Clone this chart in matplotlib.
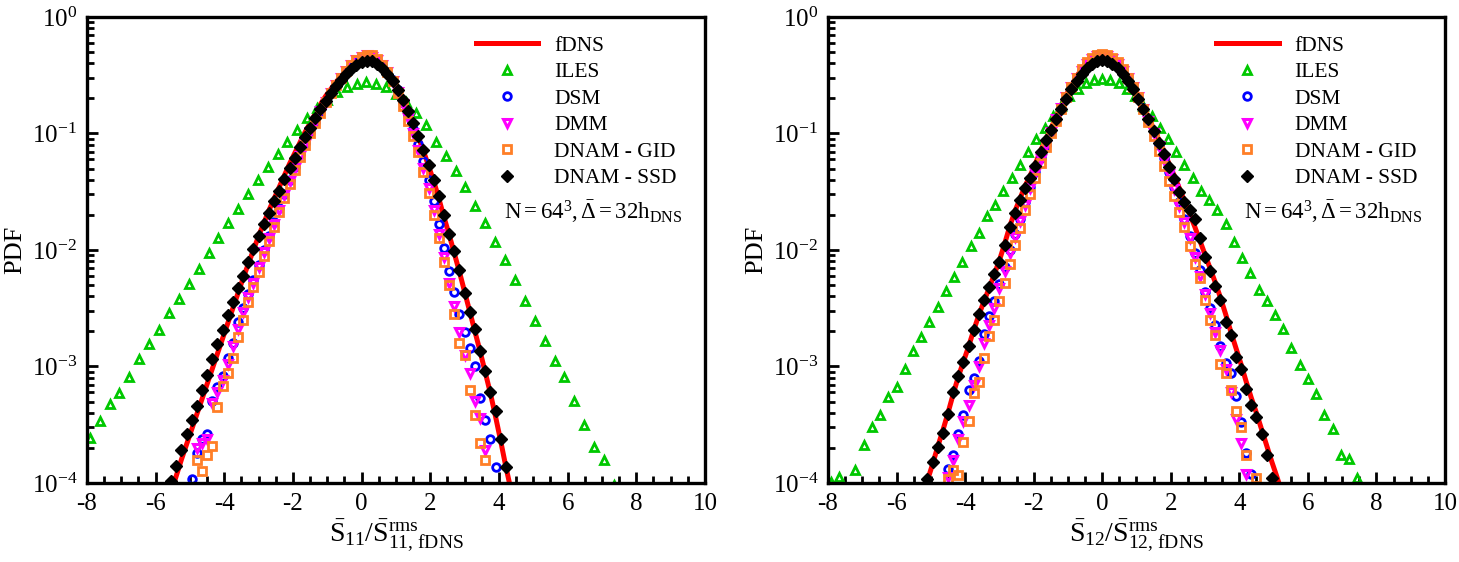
import numpy as np
import matplotlib
matplotlib.use('Agg')
import matplotlib.pyplot as plt
from matplotlib.ticker import MultipleLocator, LogLocator, NullFormatter

plt.rcParams['font.family'] = ['Liberation Serif', 'DejaVu Serif']
plt.rcParams['mathtext.fontset'] = 'custom'
plt.rcParams['mathtext.rm'] = 'Liberation Serif'
plt.rcParams['mathtext.it'] = 'Liberation Serif:italic'
plt.rcParams['axes.unicode_minus'] = False

nan = np.nan

# ---------------- S11 panel: bin centres and log10(PDF) ----------------
x11 = [-5.55, -5.40, -5.25, -5.10, -4.95, -4.80, -4.65, -4.50, -4.35, -4.20,
       -4.05, -3.90, -3.75, -3.60, -3.45, -3.30, -3.15, -3.00, -2.85, -2.70,
       -2.55, -2.40, -2.25, -2.10, -1.95, -1.80, -1.65, -1.50, -1.35, -1.20,
       -1.05, -0.90, -0.75, -0.60, -0.45, -0.30, -0.15, 0.00, 0.15, 0.30,
       0.45, 0.60, 0.75, 0.90, 1.05, 1.20, 1.35, 1.50, 1.65, 1.80,
       1.95, 2.10, 2.25, 2.40, 2.55, 2.70, 2.85, 3.00, 3.15, 3.30,
       3.45, 3.60, 3.75, 3.90, 4.05, 4.20, 4.35]

fdns11 = [-4.08, -3.94, -3.80, -3.67, -3.54, -3.41, -3.28, -3.15, -3.02, -2.89,
          -2.76, -2.63, -2.50, -2.37, -2.24, -2.12, -2.00, -1.88, -1.77, -1.66,
          -1.56, -1.46, -1.36, -1.26, -1.17, -1.08, -0.99, -0.91, -0.83, -0.75,
          -0.68, -0.62, -0.56, -0.51, -0.46, -0.41, -0.375, -0.35, -0.34, -0.35,
          -0.38, -0.42, -0.47, -0.54, -0.62, -0.71, -0.81, -0.91, -1.03, -1.15,
          -1.28, -1.41, -1.56, -1.72, -1.87, -2.03, -2.19, -2.36, -2.53, -2.70,
          -2.87, -3.05, -3.23, -3.43, -3.64, -3.86, -4.06]

dsm11 = [nan, nan, nan, nan, -3.97, -3.74, -3.62, -3.58, -3.30, -3.18,
         -3.08, -2.93, -2.80, -2.62, -2.50, -2.38, -2.26, -2.13, -2.00, -1.88,
         -1.76, -1.64, -1.52, -1.40, -1.29, -1.18, -1.08, -0.99, -0.90, -0.81,
         -0.73, -0.65, -0.58, -0.52, -0.47, -0.42, -0.38, -0.35, -0.335, -0.34,
         -0.37, -0.41, -0.47, -0.54, -0.63, -0.73, -0.84, -0.96, -1.09, -1.24,
         -1.40, -1.58, -1.78, -1.98, -2.18, -2.36, -2.55, -2.70, -2.84, -3.00,
         -3.27, -3.46, -3.62, -3.86, nan, nan, nan]

dmm11 = [nan, nan, nan, nan, nan, -3.70, -3.66, -3.62, -3.31, -3.22,
         -3.12, -2.98, -2.82, -2.68, -2.53, -2.40, -2.28, -2.15, -2.02, -1.90,
         -1.78, -1.66, -1.53, -1.41, -1.30, -1.19, -1.09, -0.99, -0.90, -0.81,
         -0.73, -0.65, -0.58, -0.52, -0.46, -0.41, -0.37, -0.345, -0.33, -0.34,
         -0.37, -0.41, -0.47, -0.55, -0.64, -0.75, -0.87, -1.00, -1.14, -1.30,
         -1.47, -1.66, -1.86, -2.06, -2.28, -2.48, -2.70, -2.90, -3.06, -3.30,
         -3.44, -3.72, nan, nan, nan, nan, nan]

gid11 = [nan, nan, nan, nan, nan, -3.80, -3.90, -3.76, -3.68, -3.35,
         -3.17, -3.06, -2.93, -2.75, -2.60, -2.45, -2.32, -2.19, -2.05, -1.92,
         -1.80, -1.67, -1.55, -1.43, -1.31, -1.20, -1.10, -1.00, -0.91, -0.82,
         -0.73, -0.65, -0.58, -0.52, -0.46, -0.41, -0.37, -0.34, -0.325, -0.33,
         -0.36, -0.41, -0.47, -0.55, -0.65, -0.76, -0.89, -1.02, -1.16, -1.33,
         -1.51, -1.70, -1.90, -2.10, -2.30, -2.55, -2.80, -2.90, -3.20, -3.42,
         -3.66, -3.80, nan, nan, nan, nan, nan]

ssd11 = [-3.98, -3.85, -3.72, -3.58, -3.46, -3.34, -3.20, -3.07, -2.94, -2.81,
         -2.69, -2.56, -2.45, -2.33, -2.22, -2.10, -1.99, -1.88, -1.78, -1.68,
         -1.58, -1.49, -1.39, -1.30, -1.21, -1.12, -1.03, -0.95, -0.87, -0.79,
         -0.72, -0.65, -0.59, -0.54, -0.49, -0.45, -0.41, -0.39, -0.375, -0.38,
         -0.40, -0.44, -0.49, -0.55, -0.63, -0.71, -0.81, -0.91, -1.02, -1.14,
         -1.27, -1.40, -1.54, -1.70, -1.86, -2.01, -2.17, -2.37, -2.53, -2.68,
         -2.87, -3.04, -3.22, -3.38, -3.62, -3.86, nan]

x11_iles = [-7.92, -7.63, -7.34, -7.06, -6.77, -6.48, -6.19, -5.90, -5.62, -5.33,
            -5.04, -4.75, -4.46, -4.18, -3.89, -3.60, -3.31, -3.02, -2.74, -2.45,
            -2.16, -1.87, -1.58, -1.30, -1.01, -0.72, -0.43, -0.14, 0.14, 0.43,
            0.72, 1.01, 1.30, 1.58, 1.87, 2.16, 2.45, 2.74, 3.02, 3.31,
            3.60, 3.89, 4.18, 4.46, 4.75, 5.04, 5.33, 5.62, 5.90, 6.19,
            6.48, 6.77, 7.06, 7.34]
iles11 = [-3.61, -3.47, -3.32, -3.23, -3.09, -2.94, -2.81, -2.69, -2.54, -2.42,
          -2.29, -2.16, -2.03, -1.90, -1.77, -1.65, -1.52, -1.40, -1.29, -1.18,
          -1.07, -0.97, -0.87, -0.78, -0.71, -0.645, -0.60, -0.575, -0.56, -0.575,
          -0.60, -0.665, -0.73, -0.82, -0.93, -1.07, -1.19, -1.32, -1.46, -1.62,
          -1.77, -1.93, -2.09, -2.26, -2.44, -2.61, -2.78, -2.95, -3.09, -3.30,
          -3.50, -3.69, -3.80, -4.02]

# ---------------- S12 panel ----------------
x12 = [-5.25, -5.10, -4.95, -4.80, -4.65, -4.50, -4.35, -4.20, -4.05, -3.90,
       -3.75, -3.60, -3.45, -3.30, -3.15, -3.00, -2.85, -2.70, -2.55, -2.40,
       -2.25, -2.10, -1.95, -1.80, -1.65, -1.50, -1.35, -1.20, -1.05, -0.90,
       -0.75, -0.60, -0.45, -0.30, -0.15, 0.00, 0.15, 0.30, 0.45, 0.60,
       0.75, 0.90, 1.05, 1.20, 1.35, 1.50, 1.65, 1.80, 1.95, 2.10,
       2.25, 2.40, 2.55, 2.70, 2.85, 3.00, 3.15, 3.30, 3.45, 3.60,
       3.75, 3.90, 4.05, 4.20, 4.35, 4.50, 4.65, 4.80, 4.95, 5.10,
       5.25]

fdns12 = [-4.12, -3.98, -3.84, -3.69, -3.55, -3.40, -3.24, -3.09, -2.96, -2.83,
          -2.69, -2.56, -2.44, -2.33, -2.21, -2.09, -1.95, -1.80, -1.67, -1.56,
          -1.45, -1.36, -1.26, -1.15, -1.05, -0.96, -0.86, -0.76, -0.67, -0.59,
          -0.51, -0.45, -0.40, -0.36, -0.34, -0.33, -0.34, -0.36, -0.40, -0.45,
          -0.51, -0.59, -0.67, -0.76, -0.86, -0.96, -1.05, -1.15, -1.26, -1.36,
          -1.47, -1.58, -1.69, -1.80, -1.92, -2.04, -2.16, -2.28, -2.41, -2.55,
          -2.70, -2.84, -2.98, -3.13, -3.27, -3.40, -3.54, -3.68, -3.82, -3.95,
          -4.09]

dsm12 = [nan, nan, nan, nan, nan, -3.88, -3.76, -3.58, -3.42, -3.20,
         -3.10, -2.95, -2.72, -2.57, -2.44, -2.29, -2.15, -2.00, -1.86, -1.73,
         -1.59, -1.46, -1.33, -1.21, -1.10, -0.99, -0.88, -0.78, -0.69, -0.60,
         -0.52, -0.46, -0.40, -0.36, -0.34, -0.33, -0.34, -0.36, -0.40, -0.46,
         -0.52, -0.60, -0.69, -0.78, -0.88, -0.99, -1.10, -1.21, -1.33, -1.46,
         -1.59, -1.73, -1.88, -2.03, -2.17, -2.36, -2.50, -2.64, -2.82, -2.97,
         -3.06, -3.25, -3.48, -3.74, -3.92, nan, nan, nan, nan, nan,
         nan]

dmm12 = [nan, nan, nan, nan, nan, -3.95, -3.80, -3.62, -3.47, -3.33,
         -3.16, -3.00, -2.80, -2.64, -2.50, -2.33, -2.18, -2.03, -1.89, -1.75,
         -1.61, -1.47, -1.34, -1.22, -1.10, -0.99, -0.88, -0.78, -0.69, -0.60,
         -0.52, -0.46, -0.40, -0.36, -0.335, -0.325, -0.335, -0.36, -0.40, -0.46,
         -0.52, -0.60, -0.69, -0.79, -0.89, -1.00, -1.11, -1.23, -1.35, -1.48,
         -1.62, -1.76, -1.90, -2.06, -2.22, -2.38, -2.54, -2.70, -2.86, -3.02,
         -3.22, -3.45, -3.66, -3.92, nan, nan, nan, nan, nan, nan,
         nan]

gid12 = [nan, nan, nan, nan, nan, -3.97, -3.89, -3.93, -3.65, -3.47,
         -3.23, -3.13, -2.93, -2.74, -2.60, -2.44, -2.28, -2.12, -1.96, -1.81,
         -1.66, -1.52, -1.38, -1.25, -1.12, -1.00, -0.89, -0.79, -0.69, -0.60,
         -0.52, -0.45, -0.39, -0.35, -0.325, -0.315, -0.325, -0.35, -0.39, -0.45,
         -0.52, -0.60, -0.69, -0.79, -0.90, -1.02, -1.15, -1.28, -1.41, -1.54,
         -1.67, -1.80, -1.97, -2.12, -2.24, -2.43, -2.60, -2.73, -2.98, -3.06,
         -3.20, -3.38, -3.52, -3.76, nan, -3.96, nan, nan, nan, nan,
         nan]

ssd12 = [nan, -3.97, -3.82, -3.69, -3.57, -3.41, -3.22, -3.08, -2.96, -2.82,
         -2.69, -2.55, -2.43, -2.32, -2.21, -2.10, -1.96, -1.80, -1.68, -1.57,
         -1.47, -1.38, -1.28, -1.16, -1.06, -0.97, -0.88, -0.79, -0.70, -0.62,
         -0.55, -0.49, -0.44, -0.40, -0.38, -0.37, -0.38, -0.40, -0.44, -0.49,
         -0.55, -0.62, -0.70, -0.79, -0.88, -0.98, -1.08, -1.18, -1.29, -1.39,
         -1.50, -1.59, -1.66, -1.73, -1.90, -2.06, -2.18, -2.31, -2.43, -2.62,
         -2.73, -2.92, -3.02, -3.19, -3.33, -3.43, -3.58, -3.76, -3.96, nan,
         nan]

x12_iles = [-7.92, -7.68, -7.44, -7.20, -6.96, -6.72, -6.48, -6.24, -6.00, -5.76,
            -5.52, -5.28, -5.04, -4.80, -4.56, -4.32, -4.08, -3.84, -3.60, -3.36,
            -3.12, -2.88, -2.64, -2.40, -2.16, -1.92, -1.68, -1.44, -1.20, -0.96,
            -0.72, -0.48, -0.24, 0.00, 0.24, 0.48, 0.72, 0.96, 1.20, 1.44,
            1.68, 1.92, 2.16, 2.40, 2.64, 2.88, 3.12, 3.36, 3.60, 3.84,
            4.08, 4.32, 4.56, 4.80, 5.04, 5.28, 5.52, 5.76, 6.00, 6.24,
            6.48, 6.72, 6.96, 7.20, 7.44]
iles12 = [-3.99, -3.95, nan, -3.89, -3.67, -3.52, -3.42, -3.26, -3.18, -3.02,
          -2.87, -2.75, -2.62, -2.49, -2.35, -2.23, -2.10, -1.97, -1.85, -1.71,
          -1.61, -1.49, -1.38, -1.27, -1.16, -1.05, -0.95, -0.85, -0.76, -0.68,
          -0.62, -0.57, -0.54, -0.53, -0.54, -0.57, -0.62, -0.68, -0.76, -0.85,
          -0.95, -1.05, -1.16, -1.27, -1.38, -1.49, -1.57, -1.66, -1.78, -1.93,
          -2.07, -2.20, -2.34, -2.44, -2.56, -2.68, -2.84, -2.99, -3.11, -3.24,
          -3.42, -3.54, -3.76, -3.79, -3.96]

labels = ['fDNS', 'ILES', 'DSM', 'DMM', 'DNAM - GID', 'DNAM - SSD']
green = '#00c800'
orange = '#ff7f27'

fig = plt.figure(figsize=(14.59, 5.62), dpi=100)
ax1 = fig.add_axes([0.0596, 0.1406, 0.4236, 0.8292])
ax2 = fig.add_axes([0.5675, 0.1406, 0.4229, 0.8292])

panels = [
    (ax1, x11, fdns11, x11_iles, iles11, dsm11, dmm11, gid11, ssd11, '11'),
    (ax2, x12, fdns12, x12_iles, iles12, dsm12, dmm12, gid12, ssd12, '12'),
]

for ax, x, fdns, xi, iles, dsm, dmm, gid, ssd, ij in panels:
    p = lambda v: 10.0 ** np.array(v)
    ax.plot(x, p(fdns), '-', color='red', lw=3.6, label=labels[0])
    ax.plot(xi, p(iles), '^', ls='none', ms=6, mfc='none', mec=green, mew=2.0, label=labels[1])
    ax.plot(x, p(dsm), 'o', ls='none', ms=5.5, mfc='none', mec='blue', mew=2.0, label=labels[2])
    ax.plot(x, p(dmm), 'v', ls='none', ms=6, mfc='none', mec='magenta', mew=2.2, label=labels[3])
    ax.plot(x, p(gid), 's', ls='none', ms=5.5, mfc='none', mec=orange, mew=2.0, label=labels[4])
    ax.plot(x, p(ssd), 'D', ls='none', ms=6.5, color='black', label=labels[5])

    ax.set_yscale('log')
    ax.set_xlim(-8, 10)
    ax.set_ylim(1e-4, 1)
    ax.xaxis.set_major_locator(MultipleLocator(2))
    ax.xaxis.set_minor_locator(MultipleLocator(0.5))
    ax.yaxis.set_major_locator(LogLocator(base=10, numticks=10))
    ax.yaxis.set_minor_locator(LogLocator(base=10, subs=np.arange(2, 10), numticks=20))
    ax.yaxis.set_minor_formatter(NullFormatter())
    ax.tick_params(which='both', direction='in', top=False, right=False, width=2.0)
    ax.tick_params(which='major', length=8, labelsize=18, pad=7)
    ax.tick_params(which='minor', length=5)
    for s in ax.spines.values():
        s.set_linewidth(2.4)

    ax.set_ylabel('PDF', fontsize=19, labelpad=4)
    ax.set_xlabel(r'$\bar{\mathrm{S}}_{%s}/\bar{\mathrm{S}}^{\mathrm{rms}}_{%s,\,\mathrm{fDNS}}$' % (ij, ij),
                  fontsize=20, labelpad=2)

    ax.legend(loc='upper left', bbox_to_anchor=(0.629, 0.960), frameon=False, fontsize=15.5,
              numpoints=1, handlelength=2.9, handletextpad=0.75, labelspacing=0.3,
              borderpad=0, borderaxespad=0)
    ax.text(0.675, 0.583, r'$\mathrm{N=64^3,\bar{\Delta}=32h_{DNS}}$', transform=ax.transAxes,
            fontsize=16.5, va='center', ha='left')

fig.savefig('out.png', dpi=100)
